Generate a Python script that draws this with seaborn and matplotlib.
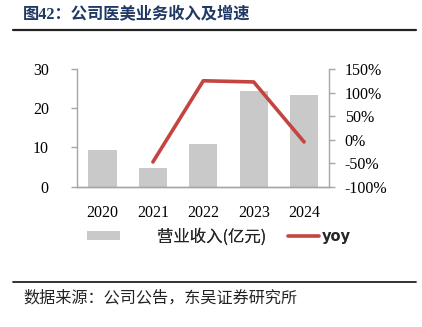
import matplotlib
matplotlib.use("Agg")
import matplotlib.pyplot as plt
import seaborn as sns
import pandas as pd
from matplotlib.lines import Line2D
from matplotlib.patches import Patch
from matplotlib.ticker import FuncFormatter

# ---- data ----
years = [2020, 2021, 2022, 2023, 2024]
revenue = [9.3, 4.8, 10.9, 24.5, 23.3]          # 营业收入(亿元)
yoy_years = [2021, 2022, 2023, 2024]
yoy = [-47.5, 125.0, 122.5, -5.0]                # yoy (%)
left_ticks = [0, 10, 20, 30]
right_ticks = [-100, -50, 0, 50, 100, 150]

title_text = "图42：公司医美业务收入及增速"
source_text = "数据来源：公司公告，东吴证券研究所"
bar_label = "营业收入(亿元)"
line_label = "yoy"

sns.set_theme(style="white")
plt.rcParams['font.family'] = ['Liberation Serif', 'Noto Sans CJK SC', 'DejaVu Sans']

bar_color = "#c9c9c9"
line_color = "#c4443f"
spine_color = "#a6a6a6"

df_bar = pd.DataFrame({"year": years, "revenue": revenue})
df_line = pd.DataFrame({"year": yoy_years, "yoy": yoy})

fig = plt.figure(figsize=(4.22, 3.27), dpi=100)
ax = fig.add_axes([77.3 / 422, 1 - 186.7 / 327, (329.3 - 77.3) / 422, (186.7 - 69) / 327])

sns.barplot(data=df_bar, x="year", y="revenue", color=bar_color, native_scale=True,
            width=0.56, ax=ax, saturation=1, edgecolor="none")
ax.set_xlim(years[0] - 0.5, years[-1] + 0.5)
ax.set_ylim(left_ticks[0], left_ticks[-1])
ax.set_yticks(left_ticks)
ax.set_xticks(years)
ax.set_xticklabels([str(y) for y in years])
ax.set_xlabel("")
ax.set_ylabel("")

ax2 = ax.twinx()
sns.lineplot(data=df_line, x="year", y="yoy", color=line_color, linewidth=2.6, ax=ax2)
ax2.set_ylim(right_ticks[0], right_ticks[-1])
ax2.set_yticks(right_ticks)
ax2.yaxis.set_major_formatter(FuncFormatter(lambda v, p: f"{int(v)}%"))
ax2.set_ylabel("")
ax2.set_xlim(years[0] - 0.5, years[-1] + 0.5)

for a in (ax, ax2):
    a.grid(False)
    a.set_facecolor("none")
    for s in a.spines.values():
        s.set_color(spine_color)
        s.set_linewidth(1.0)
    a.spines['top'].set_visible(False)

ax.spines['right'].set_visible(False)
ax2.spines['left'].set_visible(False)

ax.tick_params(axis='y', left=True, length=4.5, width=1, color=spine_color,
               labelsize=11.5, labelcolor="black", pad=16)
ax.tick_params(axis='x', bottom=False, labelsize=11.5, labelcolor="black", pad=7)
ax2.tick_params(axis='y', right=True, length=4, width=1, color=spine_color,
                labelsize=11.5, labelcolor="black", pad=7)
for t in ax.get_xticklabels() + ax.get_yticklabels() + ax2.get_yticklabels():
    t.set_fontfamily('Liberation Serif')

# legends
h1 = Patch(facecolor=bar_color, edgecolor="none")
h2 = Line2D([], [], color=line_color, linewidth=2.6)
leg1 = fig.legend([h1], [bar_label], loc="center left",
                  bbox_to_anchor=(87 / 422, 1 - 237 / 327), frameon=False,
                  handlelength=2.0, handleheight=0.45, handletextpad=2.3,
                  borderpad=0, borderaxespad=0, prop={'family': 'Noto Sans CJK SC', 'size': 11.8})
leg2 = fig.legend([h2], [line_label], loc="center left",
                  bbox_to_anchor=(288 / 422, 1 - 237 / 327), frameon=False,
                  handlelength=2.15, handletextpad=0.2,
                  borderpad=0, borderaxespad=0,
                  prop={'family': 'DejaVu Sans', 'size': 10.5, 'weight': 'bold'})
fig.add_artist(leg1)

# title and rules
fig.text(23 / 422, 1 - 15 / 327, title_text, ha="left", va="center", fontsize=11.7,
         fontweight="bold", color="#1f3864",
         family=['Liberation Serif', 'Noto Sans CJK SC'])
fig.add_artist(Line2D([13 / 422, 416 / 422], [1 - 30 / 327, 1 - 30 / 327],
                      color="#222222", linewidth=1.6, transform=fig.transFigure))
fig.add_artist(Line2D([13 / 422, 416 / 422], [1 - 282.3 / 327, 1 - 282.3 / 327],
                      color="#222222", linewidth=1.3, transform=fig.transFigure))
fig.text(23 / 422, 1 - 298 / 327, source_text, ha="left", va="center", fontsize=11.6,
         color="#222222", family=['Noto Sans CJK SC'])

fig.savefig("out.png", dpi=100)
